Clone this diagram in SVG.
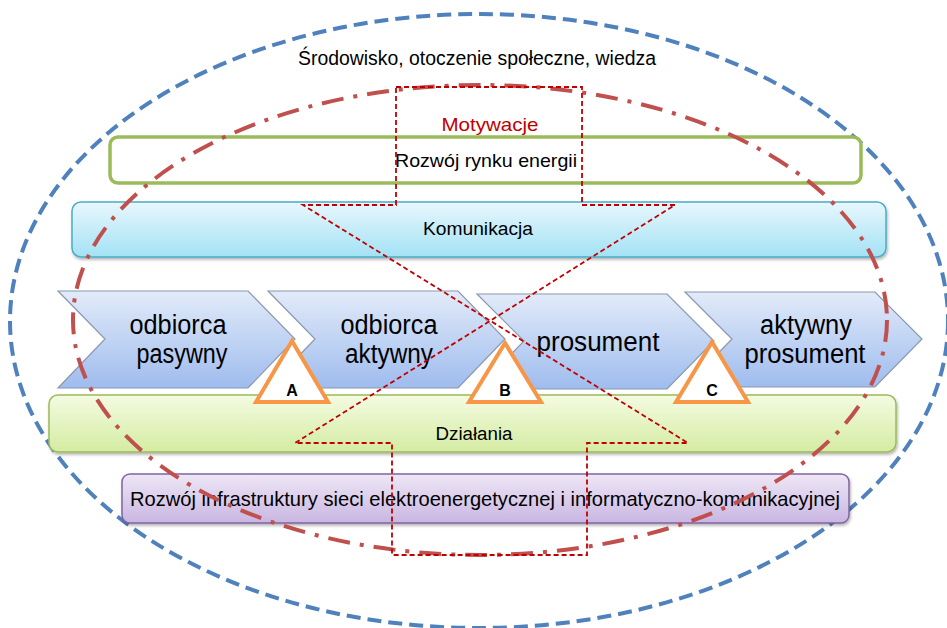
<svg xmlns="http://www.w3.org/2000/svg" width="947" height="628" viewBox="0 0 947 628">
  <defs>
    <linearGradient id="gChevron" x1="0" y1="0" x2="0" y2="1">
      <stop offset="0" stop-color="#e2ebf9"/>
      <stop offset="1" stop-color="#9fbcee"/>
    </linearGradient>
    <linearGradient id="gKom" x1="0" y1="0" x2="0" y2="1">
      <stop offset="0" stop-color="#e8f7fd"/>
      <stop offset="1" stop-color="#a3e2f5"/>
    </linearGradient>
    <linearGradient id="gDz" x1="0" y1="0" x2="0" y2="1">
      <stop offset="0" stop-color="#f4fbe2"/>
      <stop offset="1" stop-color="#d4eca2"/>
    </linearGradient>
    <linearGradient id="gInfra" x1="0" y1="0" x2="0" y2="1">
      <stop offset="0" stop-color="#eee7f6"/>
      <stop offset="1" stop-color="#c9b6e2"/>
    </linearGradient>
    <filter id="shadow" x="-5%" y="-20%" width="110%" height="150%">
      <feDropShadow dx="1" dy="2" stdDeviation="1.5" flood-color="#000" flood-opacity="0.3"/>
    </filter>
  </defs>
  <style>
    text { font-family: "Liberation Sans", Arial, sans-serif; fill: #000; text-anchor: middle; }
    .chev { fill: url(#gChevron); stroke: #8a98ad; stroke-width: 1.2; }
    .chevText { font-size: 27px; }
    .tri { fill: #fff; stroke: #f79646; stroke-width: 4; stroke-linejoin: miter; }
    .triText { font-size: 16px; font-weight: bold; }
    .boxText { font-size: 18px; }
  </style>

  <!-- outer environment ellipse -->
  <g id="environment">
    <ellipse cx="479" cy="321" rx="469" ry="307" fill="none" stroke="#4f81bd" stroke-width="4" stroke-dasharray="14 7"/>
    <text x="477" y="65" font-size="19.5" textLength="358" lengthAdjust="spacingAndGlyphs">Środowisko, otoczenie społeczne, wiedza</text>
  </g>

  <!-- market development -->
  <g id="rynek">
    <rect x="110" y="137" width="751" height="46" rx="8" fill="#fff" stroke="#9bbb59" stroke-width="3.5"/>
    <text x="486" y="167" font-size="19" textLength="182" lengthAdjust="spacingAndGlyphs">Rozwój rynku energii</text>
  </g>

  <g id="komunikacja">
    <rect x="72" y="202" width="814" height="55" rx="9" fill="url(#gKom)" stroke="#4bacc6" stroke-width="1.5" filter="url(#shadow)"/>
    <text class="boxText" x="478" y="235" textLength="110" lengthAdjust="spacingAndGlyphs">Komunikacja</text>
  </g>

  <g id="dzialania">
    <rect x="49" y="395" width="847" height="57" rx="9" fill="url(#gDz)" stroke="#9bbb59" stroke-width="1.5" filter="url(#shadow)"/>
    <text class="boxText" x="474" y="440" textLength="77" lengthAdjust="spacingAndGlyphs">Działania</text>
  </g>

  <g id="infrastruktura">
    <rect x="122" y="474" width="727" height="49" rx="8" fill="url(#gInfra)" stroke="#8064a2" stroke-width="1.5" filter="url(#shadow)"/>
    <text x="485" y="506" font-size="21" textLength="710" lengthAdjust="spacingAndGlyphs">Rozwój infrastruktury sieci elektroenergetycznej i informatyczno-komunikacyjnej</text>
  </g>

  <!-- customer stages -->
  <g id="stage1">
    <polygon class="chev" points="58,291 248,291 295,339 248,388 58,388 105,339"/>
    <text class="chevText" x="178" y="334" textLength="97" lengthAdjust="spacingAndGlyphs">odbiorca</text>
    <text class="chevText" x="182" y="363" textLength="91" lengthAdjust="spacingAndGlyphs">pasywny</text>
  </g>
  <g id="stage2">
    <polygon class="chev" points="268,291 458,291 505,339 458,388 268,388 315,339"/>
    <text class="chevText" x="389" y="334" textLength="97" lengthAdjust="spacingAndGlyphs">odbiorca</text>
    <text class="chevText" x="389" y="363" textLength="88" lengthAdjust="spacingAndGlyphs">aktywny</text>
  </g>
  <g id="stage3">
    <polygon class="chev" points="477,294 667,294 714,341 667,389 477,389 524,341"/>
    <text class="chevText" x="598" y="351" textLength="123" lengthAdjust="spacingAndGlyphs">prosument</text>
  </g>
  <g id="stage4">
    <polygon class="chev" points="685,292 875,292 922,339 875,387 685,387 732,339"/>
    <text class="chevText" x="806" y="334" textLength="92" lengthAdjust="spacingAndGlyphs">aktywny</text>
    <text class="chevText" x="805" y="363" textLength="121" lengthAdjust="spacingAndGlyphs">prosument</text>
  </g>

  <!-- transition markers -->
  <g id="markerA">
    <polygon class="tri" points="292,341 256,402 328,402"/>
    <text class="triText" x="292" y="396">A</text>
  </g>
  <g id="markerB">
    <polygon class="tri" points="505,343 469,402 541,402"/>
    <text class="triText" x="505" y="396">B</text>
  </g>
  <g id="markerC">
    <polygon class="tri" points="712,342 676,402 748,402"/>
    <text class="triText" x="712" y="396">C</text>
  </g>

  <!-- motivation scope and crossing arrows -->
  <g id="connectors">
    <ellipse cx="480" cy="320" rx="407" ry="235" fill="none" stroke="#c0504d" stroke-width="4" stroke-dasharray="22 10 4 10"/>
    <path d="M396,87 L582,87 L582,205 L675,205 L295,443 L392,443 L392,555 L587,555 L587,443 L688,443 L303,205 L396,205 Z" fill="none" stroke="#c00000" stroke-width="1.8" stroke-dasharray="5 3"/>
  </g>
  <text x="490" y="131" font-size="19" style="fill:#c00000" textLength="97" lengthAdjust="spacingAndGlyphs">Motywacje</text>
</svg>
